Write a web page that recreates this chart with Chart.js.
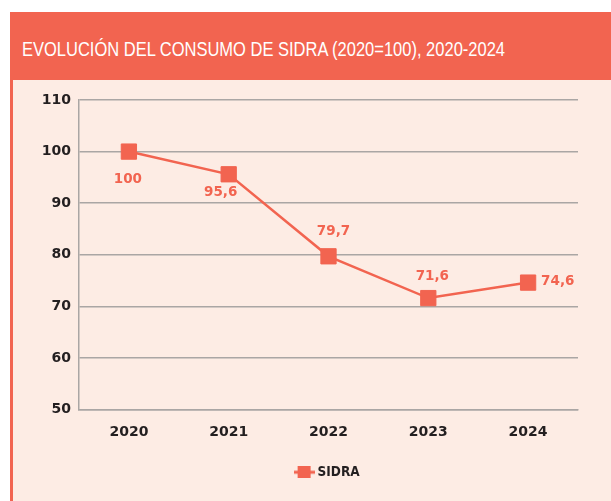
<!DOCTYPE html>
<html>
<head>
<meta charset="utf-8">
<script src="https://cdn.jsdelivr.net/npm/chart.js@4/dist/chart.umd.min.js"></script>
<style>
  body { margin: 0; background: #fff; width: 611px; height: 501px; overflow: hidden; position: relative; }
  #header { position: absolute; left: 10px; top: 12px; width: 601px; height: 68px; background: #f26450; }
  #header h1 { margin: 0; position: absolute; left: 12px; top: 26px; color: #fff; white-space: nowrap; transform-origin: 0 0;
    font: 19.5px "Liberation Sans", Arial, sans-serif; line-height: 22px; }
  #panel { position: absolute; left: 10px; top: 80px; width: 598px; height: 421px; background: #fdece4; border-left: 3px solid #f26450; }
  #chart { position: absolute; left: 0; top: 0; }
</style>
</head>
<body>
<div id="header"><h1 id="title">EVOLUCIÓN DEL CONSUMO DE SIDRA (2020=100), 2020-2024</h1></div>
<div id="panel"></div>
<canvas id="chart" width="611" height="501"></canvas>
<script>
// datos
const years = ['2020', '2021', '2022', '2023', '2024']
const sidra = [100, 95.6, 79.7, 71.6, 74.6]
const yTicks = [50, 60, 70, 80, 90, 100, 110]

// where each value label sits relative to its point
const labelPos = ['below', 'belowLeft', 'aboveRight', 'above', 'right']

const red = '#f26450'
const grey = '#aaa6a4'
const tickFont = { family: '"DejaVu Sans", Arial', size: 14, weight: 'bold' }

// condensed look for the title
const title = document.getElementById('title')
title.style.transform = 'scaleX(' + (483 / title.getBoundingClientRect().width) + ')'

// legend marker: short line with a square on it
const marker = document.createElement('canvas')
marker.width = 21
marker.height = 12
const m = marker.getContext('2d')
m.fillStyle = red
m.fillRect(0, 4.5, 21, 3)
m.fillRect(4, 0, 13, 12)

const valueLabels = {
  id: 'valueLabels',
  afterDatasetsDraw(chart) {
    const ctx = chart.ctx
    const meta = chart.getDatasetMeta(0)
    ctx.save()
    ctx.fillStyle = red
    ctx.font = 'bold 13.5px "DejaVu Sans", Arial, sans-serif'
    ctx.textBaseline = 'middle'
    meta.data.forEach((pt, i) => {
      const txt = String(sidra[i]).replace('.', ',')
      let x = pt.x, y = pt.y
      ctx.textAlign = 'center'
      switch (labelPos[i]) {
        case 'below': x -= 1; y += 28; break
        case 'belowLeft': x -= 8; y += 18; break
        case 'aboveRight': x += 5; y -= 25; break
        case 'above': x += 4; y -= 22; break
        case 'right': ctx.textAlign = 'left'; x += 13; y -= 1; break
      }
      ctx.fillText(txt, x, y)
    })
    ctx.restore()
  }
}

// legend is centred under the plot area, not the whole canvas
const centerLegend = {
  id: 'centerLegend',
  afterLayout(chart) {
    const lg = chart.legend
    const shift = (chart.chartArea.left + chart.chartArea.right) / 2 - (lg.left + lg.right) / 2
    lg.left += shift
    lg.right += shift
  }
}

new Chart(document.getElementById('chart'), {
  type: 'line',
  data: {
    labels: years,
    datasets: [{
      label: 'SIDRA',
      data: sidra,
      borderColor: red,
      backgroundColor: red,
      borderWidth: 2.5,
      pointStyle: 'rect',
      pointRadius: 10.8,
      pointHoverRadius: 10.8,
      pointBorderWidth: 1,
      tension: 0
    }]
  },
  options: {
    responsive: false,
    animation: false,
    devicePixelRatio: 1,
    layout: { padding: { left: 0, right: 33, top: 100, bottom: 12 } },
    scales: {
      x: {
        offset: true,
        grid: {
          offset: true,
          drawTicks: false,
          color: c => c.index === years.length ? grey : 'transparent',
          lineWidth: 1.5
        },
        border: { color: grey, width: 1.5 },
        ticks: { color: '#231f20', padding: 14, font: tickFont },
        afterFit: s => { s.height = 46 }
      },
      y: {
        min: 50,
        max: 110,
        afterBuildTicks: s => { s.ticks = yTicks.map(v => ({ value: v })) },
        grid: { color: grey, lineWidth: 1.5, drawTicks: false },
        border: { color: grey, width: 1.5 },
        ticks: { color: '#231f20', padding: 8, font: tickFont },
        afterFit: s => { s.width = 79 }
      }
    },
    plugins: {
      tooltip: { enabled: false },
      legend: {
        position: 'bottom',
        labels: {
          usePointStyle: true,
          pointStyle: marker,
          padding: 10,
          color: '#231f20',
          font: { family: '"DejaVu Sans Condensed", "Liberation Sans", Arial', size: 13.5, weight: 'bold' }
        }
      }
    }
  },
  plugins: [valueLabels, centerLegend]
})
</script>
</body>
</html>
